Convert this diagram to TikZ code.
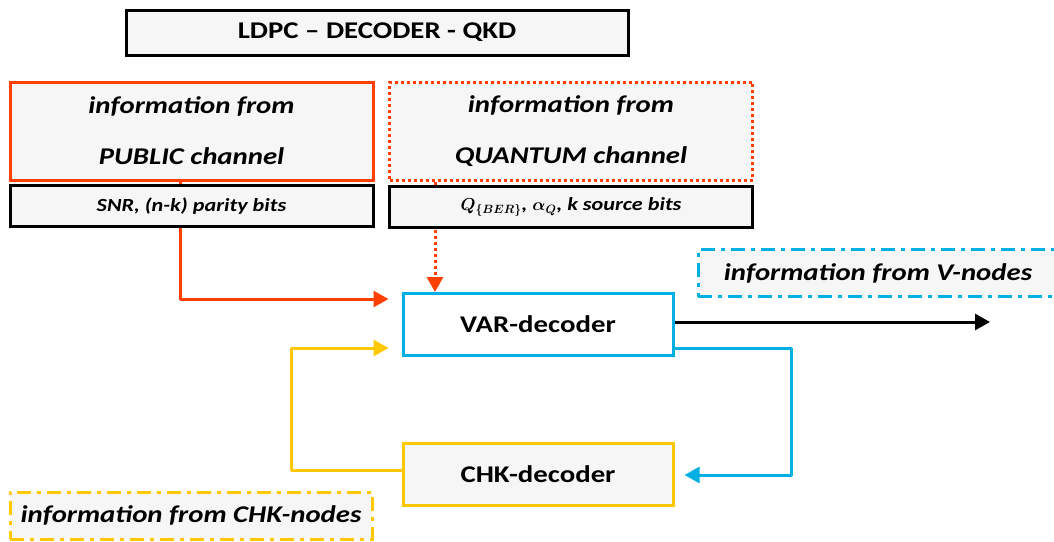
\documentclass[tikz,border=0pt]{standalone}
\usepackage{fontspec}
\setmainfont{Carlito}[FakeStretch=1.2]
\usetikzlibrary{arrows.meta,backgrounds}

\definecolor{qkdred}{RGB}{255,64,0}
\definecolor{qkdblue}{RGB}{0,176,226}
\definecolor{qkdyellow}{RGB}{255,200,0}
\definecolor{qkdgray}{RGB}{246,246,246}

\begin{document}
\begin{tikzpicture}[x=1pt,y=-1pt,
			box/.style={draw, line width=3pt, fill=qkdgray, inner sep=0pt, align=center},
			titlebox/.style={box, minimum width=502pt, minimum height=45pt, font=\fontsize{24}{28}\selectfont\bfseries},
			infobox/.style={box, minimum width=363pt, minimum height=98pt, font=\fontsize{24}{51}\selectfont\bfseries\itshape},
			databox/.style={box, minimum width=363pt, minimum height=41pt, font=\fontsize{18.5}{22}\selectfont\bfseries\itshape\boldmath},
			decbox/.style={box, minimum width=270pt, minimum height=62pt, font=\fontsize{24}{28}\selectfont\bfseries},
			notebox/.style={box, minimum height=47pt, font=\fontsize{24}{28}\selectfont\bfseries\itshape, dash pattern=on 14pt off 6pt on 4pt off 6pt},
			link/.style={line width=3pt, line join=round, -{Triangle[length=15pt,width=16pt]}}
			]
			\useasboundingbox (0,0) rectangle (1054,541);
			% header
			\node[titlebox] (title) at (377,32.5) {LDPC -- DECODER - QKD};
			% sources
			\node[infobox, draw=qkdred] (pub) at (191.5,131) {information from\\PUBLIC channel};
			\node[infobox, draw=qkdred, dash pattern=on 3pt off 3pt] (qua) at (571,131) {information from\\QUANTUM channel};
			\node[databox] (snr) at (191.5,206) {SNR, (n-k) parity bits};
			\node[databox] (qsb) at (571,207) {$Q_{\{BER\}}$, $\alpha_Q$, k source bits};
			% decoders
			\node[decbox, draw=qkdblue, fill=white] (var) at (538,324.5) {VAR-decoder};
			\node[decbox, draw=qkdyellow] (chk) at (538,474) {CHK-decoder};
			% notes
			\node[notebox, draw=qkdblue, minimum width=360pt] (vnd) at (878,273) {information from V-nodes};
			\node[notebox, draw=qkdyellow, minimum width=362pt] (cnd) at (191,515.5) {information from CHK-nodes};
			\coordinate (out) at (990,322);
			% connectors
			\begin{scope}[on background layer]
				\draw[link, qkdred] ([xshift=-11.5pt]pub.south) |- ([xshift=-13pt,yshift=-7pt]var.north west);
				\draw[link, qkdred, dash pattern=on 3pt off 3pt] ([xshift=-136pt]qua.south) -- ([xshift=-103pt]var.north);
			\end{scope}
			\draw[link, black] ([yshift=2.5pt]var.east) -- (out);
			\draw[link, qkdblue] ([yshift=-23.5pt]var.east) -- ++(117,0) |- ([xshift=10pt,yshift=-1pt]chk.east);
			\draw[link, qkdyellow] ([yshift=4pt]chk.west) -- ++(-110,0) |- ([xshift=-13pt,yshift=-23.5pt]var.west);
		\end{tikzpicture}
\end{document}
